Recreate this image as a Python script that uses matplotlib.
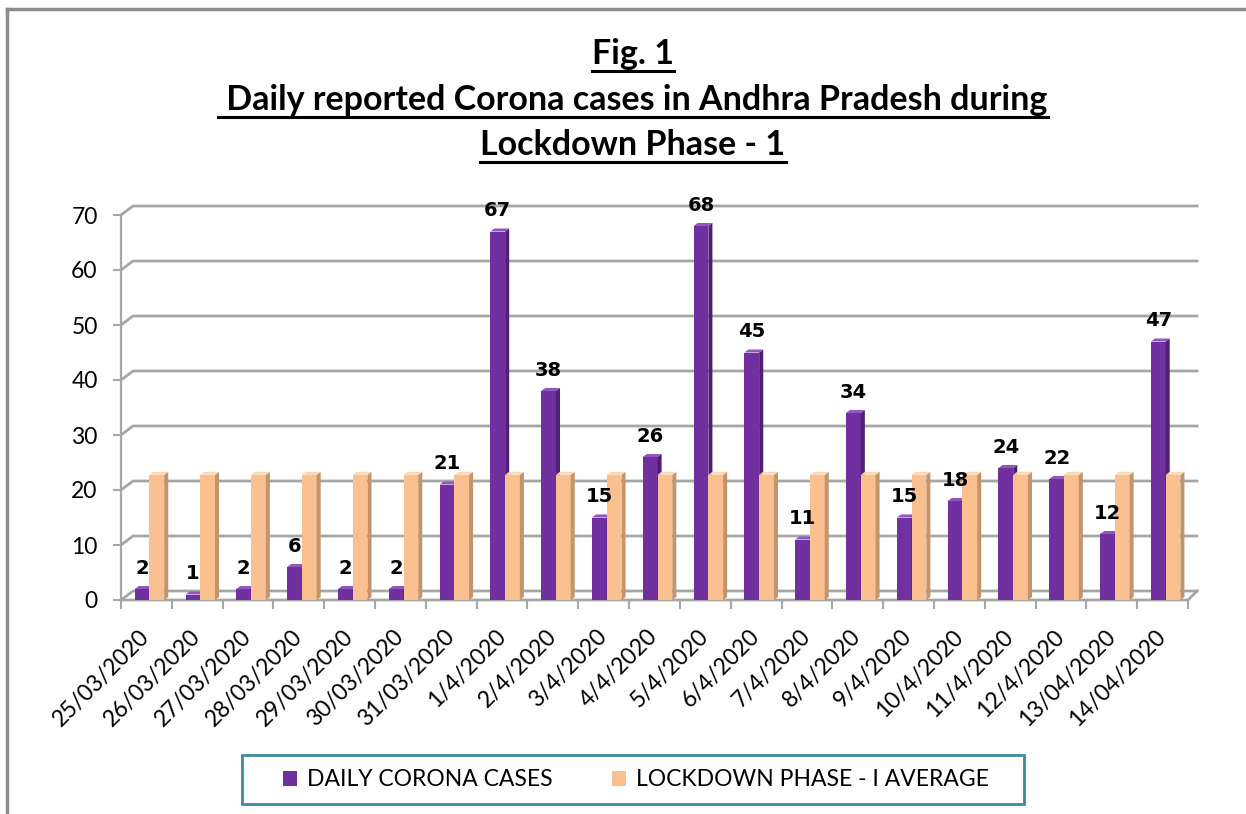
import matplotlib
matplotlib.use('Agg')
import matplotlib.pyplot as plt
from matplotlib.lines import Line2D
from matplotlib.patches import Patch, Rectangle
from matplotlib.transforms import IdentityTransform

plt.rcParams['font.family'] = ['Lato', 'DejaVu Sans']

# data
dates = ['25/03/2020', '26/03/2020', '27/03/2020', '28/03/2020', '29/03/2020',
         '30/03/2020', '31/03/2020', '1/4/2020', '2/4/2020', '3/4/2020',
         '4/4/2020', '5/4/2020', '6/4/2020', '7/4/2020', '8/4/2020',
         '9/4/2020', '10/4/2020', '11/4/2020', '12/4/2020', '13/04/2020',
         '14/04/2020']
daily_cases = [2, 1, 2, 6, 2, 2, 21, 67, 38, 15, 26, 68, 45, 11, 34, 15,
               18, 24, 22, 12, 47]
phase_avg = [22.76] * 21
y_ticks = [0, 10, 20, 30, 40, 50, 60, 70]

purple = '#7030A0'
purple_side = '#4E1F73'
purple_top = '#9058BF'
orange = '#FAC090'
orange_side = '#C4956B'
orange_top = '#FDD8B5'
grid_col = '#A6A6A6'

W, H = 1246, 814
fig = plt.figure(figsize=(W / 100, H / 100), dpi=100)
fig.patch.set_facecolor('white')

# plot area in pixels: x 121..1188, y 215..600 (from top)
ax = fig.add_axes([121 / W, (H - 600) / H, (1188 - 121) / W, (600 - 215) / H])
ax.set_xlim(0, len(dates))
ax.set_ylim(0, 70)
ax.patch.set_alpha(0)
for s in ['top', 'right', 'bottom']:
    ax.spines[s].set_visible(False)
ax.spines['left'].set_color(grid_col)
ax.spines['left'].set_linewidth(1.6)

# pseudo 3D back wall gridlines (pixel offsets)
back_dx, back_dy = 12, 9
x_left = ax.transData.transform((0, 0))[0]
x_right = ax.transData.transform((len(dates), 0))[0]
for v in y_ticks:
    yd = ax.transData.transform((0, v))[1]
    ax.add_line(Line2D([x_left, x_left + back_dx, x_right + 9],
                       [yd, yd + back_dy, yd + back_dy],
                       color=grid_col, lw=2, transform=IdentityTransform(),
                       clip_on=False, zorder=0.5))
# floor front edge and right slant
y0 = ax.transData.transform((0, 0))[1]
ax.add_line(Line2D([x_left, x_right, x_right + 9], [y0, y0, y0 + back_dy],
                   color=grid_col, lw=2, transform=IdentityTransform(),
                   clip_on=False, zorder=0.6))

# bars with side and top faces
xs = list(range(len(dates)))
p_left, p_w = 0.27, 0.29
o_left, o_w = 0.56, 0.29
sd_x, sd_y = 0.08, 0.55

def draw_bar(i, v, left, w, c_front, c_side, c_top, z):
    x0 = i + left
    x1 = x0 + w
    ax.bar(x0, v, width=w, align='edge', color=c_front, zorder=z)
    ax.fill([x1, x1 + sd_x, x1 + sd_x, x1], [0, sd_y, v + sd_y, v],
            color=c_side, zorder=z, lw=0)
    ax.fill([x0, x0 + sd_x, x1 + sd_x, x1], [v, v + sd_y, v + sd_y, v],
            color=c_top, zorder=z, lw=0)

for i in xs:
    draw_bar(i, daily_cases[i], p_left, p_w, purple, purple_side, purple_top, 2)
    draw_bar(i, phase_avg[i], o_left, o_w, orange, orange_side, orange_top, 3)
    ax.annotate(str(daily_cases[i]), (i + p_left + p_w / 2, daily_cases[i]),
                xytext=(0, 8), textcoords='offset points', ha='center',
                va='bottom', fontsize=14, fontweight='bold',
                family='DejaVu Sans', color='black', zorder=5)

# axes ticks
ax.set_yticks(y_ticks)
ax.tick_params(axis='y', length=5.8, width=1.5, color=grid_col, pad=11,
               labelsize=16.5, labelcolor='black')
ax.set_xticks([i + 0.5 for i in xs])
ax.set_xticklabels(dates, rotation=45, ha='right', va='center',
                   rotation_mode='anchor')
ax.tick_params(axis='x', which='major', length=0, pad=24, labelsize=16.5)
ax.set_xticks(range(len(dates) + 1), minor=True)
ax.tick_params(axis='x', which='minor', length=6.5, width=1.5, color=grid_col,
               direction='out')

# title lines
title_lines = [('Fig. 1', 64), (' Daily reported Corona cases in Andhra Pradesh during', 110),
               ('Lockdown Phase - 1', 155)]
title_texts = []
for txt, ypx in title_lines:
    t = fig.text(633 / W, 1 - ypx / H, txt, ha='center', va='baseline',
                 fontsize=24.5, fontweight='bold')
    title_texts.append((t, ypx))

# legend
handles = [Patch(facecolor=purple, edgecolor='none'),
           Patch(facecolor=orange, edgecolor='none')]
fig.legend(handles, ['DAILY CORONA CASES', 'LOCKDOWN PHASE - I AVERAGE'],
           loc='center', bbox_to_anchor=(636 / W, 1 - 780 / H), ncol=2,
           frameon=False, fontsize=16.5, handlelength=0.6, handleheight=0.65,
           handletextpad=0.45, columnspacing=2.6)
fig.add_artist(Rectangle((242 / W, 1 - 804 / H), (1024 - 242) / W, 49 / H,
                         transform=fig.transFigure, fill=False,
                         edgecolor='#3C8AA0', lw=2))

# outer frame
fig.add_artist(Line2D([7 / W, 7 / W], [0, 1 - 9 / H], color='#8C8C8C', lw=2.5,
                      transform=fig.transFigure))
fig.add_artist(Line2D([7 / W, 1], [1 - 9 / H, 1 - 9 / H], color='#8C8C8C', lw=2.5,
                      transform=fig.transFigure))

# underline the title lines
fig.canvas.draw()
renderer = fig.canvas.get_renderer()
for t, ypx in title_texts:
    bb = t.get_window_extent(renderer)
    yu = H - ypx - 7
    fig.add_artist(Line2D([bb.x0, bb.x1], [yu, yu], color='black', lw=2.2,
                          transform=IdentityTransform()))

fig.savefig('out.png', dpi=100)
